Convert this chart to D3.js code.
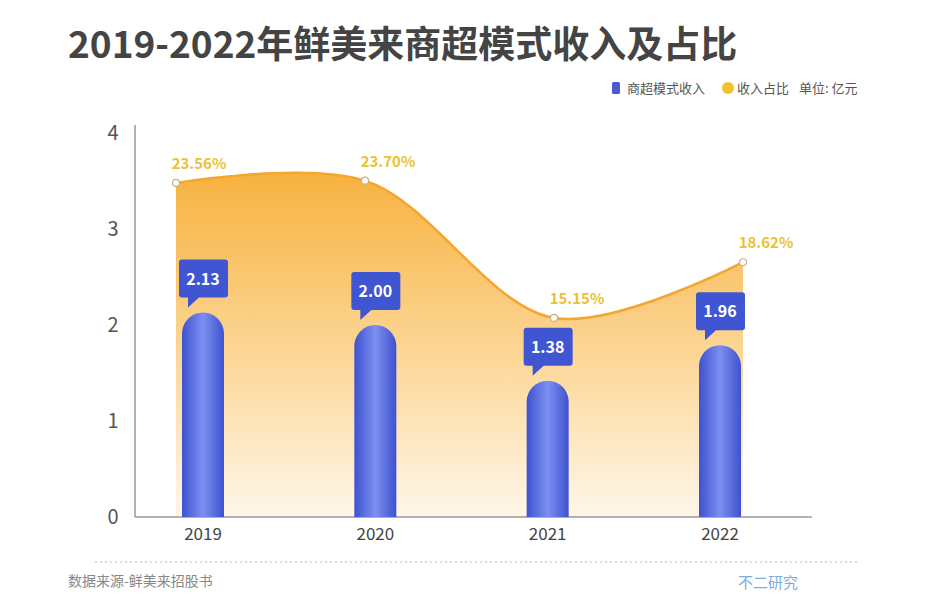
<!DOCTYPE html>
<html><head><meta charset="utf-8">
<script src="https://cdn.jsdelivr.net/npm/d3@7"></script>
<style>body{margin:0;background:#fff}svg{display:block;font-family:"Noto Sans CJK SC","Noto Sans",sans-serif}</style>
</head><body><svg id="c" width="940" height="593"></svg>
<script>
const years = ["2019","2020","2021","2022"];
const revenue = [2.13, 2.00, 1.38, 1.96];
const barHeights = [2.13, 2.00, 1.42, 1.79];
const share = [23.56, 23.70, 15.15, 18.62];
const yTicks = [0,1,2,3,4];

const svg = d3.select("#c");
const defs = svg.append("defs");
const ag = defs.append("linearGradient").attr("id","ag").attr("x1",0).attr("x2",0).attr("y1",0).attr("y2",1);
ag.append("stop").attr("offset","0%").attr("stop-color","#f7b23f");
ag.append("stop").attr("offset","55%").attr("stop-color","#fcd89a");
ag.append("stop").attr("offset","100%").attr("stop-color","#fff6ea");
const bg = defs.append("linearGradient").attr("id","bg").attr("x1",0).attr("x2",1).attr("y1",0).attr("y2",0);
bg.append("stop").attr("offset","0%").attr("stop-color","#3d52cf");
bg.append("stop").attr("offset","50%").attr("stop-color","#7d8ff0");
bg.append("stop").attr("offset","100%").attr("stop-color","#3d52cf");

const y = d3.scaleLinear().domain([0,4]).range([517,133]);
const x = d3.scalePoint().domain(years).range([203,720]);
const xl = d3.scalePoint().domain(years).range([176,743]);
const y2 = d3.scaleLinear().domain([2.75,26.67]).range([517,133]);

svg.append("text").attr("x",68).attr("y",58).attr("font-size",37).attr("font-weight",700).attr("fill","#444").text("2019-2022年鲜美来商超模式收入及占比");

const lg = svg.append("g").attr("font-size",13).attr("fill","#555");
lg.append("rect").attr("x",612).attr("y",82).attr("width",8).attr("height",12).attr("rx",1.5).attr("fill","#4a5bd0");
lg.append("text").attr("x",627).attr("y",93).text("商超模式收入");
lg.append("circle").attr("cx",728).attr("cy",88).attr("r",6).attr("fill","#f2c12e");
lg.append("text").attr("x",737).attr("y",93).text("收入占比");
lg.append("text").attr("x",799).attr("y",93).text("单位: 亿元");

const pts = years.map((d,i)=>[xl(d), y2(share[i])]);
const area = d3.area().x(d=>d[0]).y0(517).y1(d=>d[1]).curve(d3.curveCatmullRom.alpha(0.5));
svg.append("path").attr("d",area(pts)).attr("fill","url(#ag)");
svg.append("path").attr("d",d3.line().curve(d3.curveCatmullRom.alpha(0.5))(pts)).attr("fill","none").attr("stroke","#f3a630").attr("stroke-width",2.5);
svg.selectAll(".pt").data(pts).join("circle").attr("cx",d=>d[0]).attr("cy",d=>d[1]).attr("r",3.5).attr("fill","#fff").attr("stroke","#c9b08a").attr("stroke-width",1.2);
svg.selectAll(".pl").data(share).join("text").attr("x",(d,i)=>xl(years[i])+23).attr("y",(d,i)=>y2(d)-14).attr("text-anchor","middle").attr("font-size",15).attr("font-weight",700).attr("fill","#ecc133").text(d=>d.toFixed(2)+"%");

svg.append("line").attr("x1",135).attr("x2",812).attr("y1",517).attr("y2",517).attr("stroke","#999").attr("stroke-width",1.5);
svg.append("line").attr("x1",135).attr("x2",135).attr("y1",125).attr("y2",517).attr("stroke","#999").attr("stroke-width",1.5);
svg.selectAll(".yt").data(yTicks).join("text").attr("x",113).attr("y",d=>y(d)+7).attr("text-anchor","middle").attr("font-size",20).attr("fill","#555").text(d=>d);
svg.selectAll(".xt").data(years).join("text").attr("x",d=>x(d)).attr("y",540).attr("text-anchor","middle").attr("font-size",17).attr("fill","#444").text(d=>d);

const bw = 42;
svg.selectAll(".bar").data(years).join("path").attr("fill","url(#bg)").attr("d",(d,i)=>{
  const cx=x(d), top=y(barHeights[i]), r=bw/2, l=cx-r, rr=cx+r;
  return `M${l},517 L${l},${top+r} A${r},${r} 0 0 1 ${rr},${top+r} L${rr},517 Z`;
});
years.forEach((d,i)=>{
  const cx=x(d), top=y(barHeights[i]), bb=top-15, bt=bb-38, l=cx-24, r=cx+25;
  svg.append("path").attr("fill","#3f55d2")
    .attr("d",`M${l+3},${bt} L${r-3},${bt} Q${r},${bt} ${r},${bt+3} L${r},${bb-3} Q${r},${bb} ${r-3},${bb} L${l+20},${bb} L${l+9},${bb+10} L${l+9},${bb} L${l+3},${bb} Q${l},${bb} ${l},${bb-3} L${l},${bt+3} Q${l},${bt} ${l+3},${bt} Z`);
  svg.append("text").attr("x",cx).attr("y",bt+25).attr("text-anchor","middle").attr("font-size",16).attr("font-weight",700).attr("fill","#fff").text(revenue[i].toFixed(2));
});

svg.append("line").attr("x1",95).attr("x2",860).attr("y1",562).attr("y2",562).attr("stroke","#bbb").attr("stroke-dasharray","2,3");
svg.append("text").attr("x",68).attr("y",586).attr("font-size",14).attr("fill","#888").text("数据来源-鲜美来招股书");
svg.append("text").attr("x",738).attr("y",588).attr("font-size",15).attr("fill","#7aaee0").text("不二研究");
</script></body></html>
